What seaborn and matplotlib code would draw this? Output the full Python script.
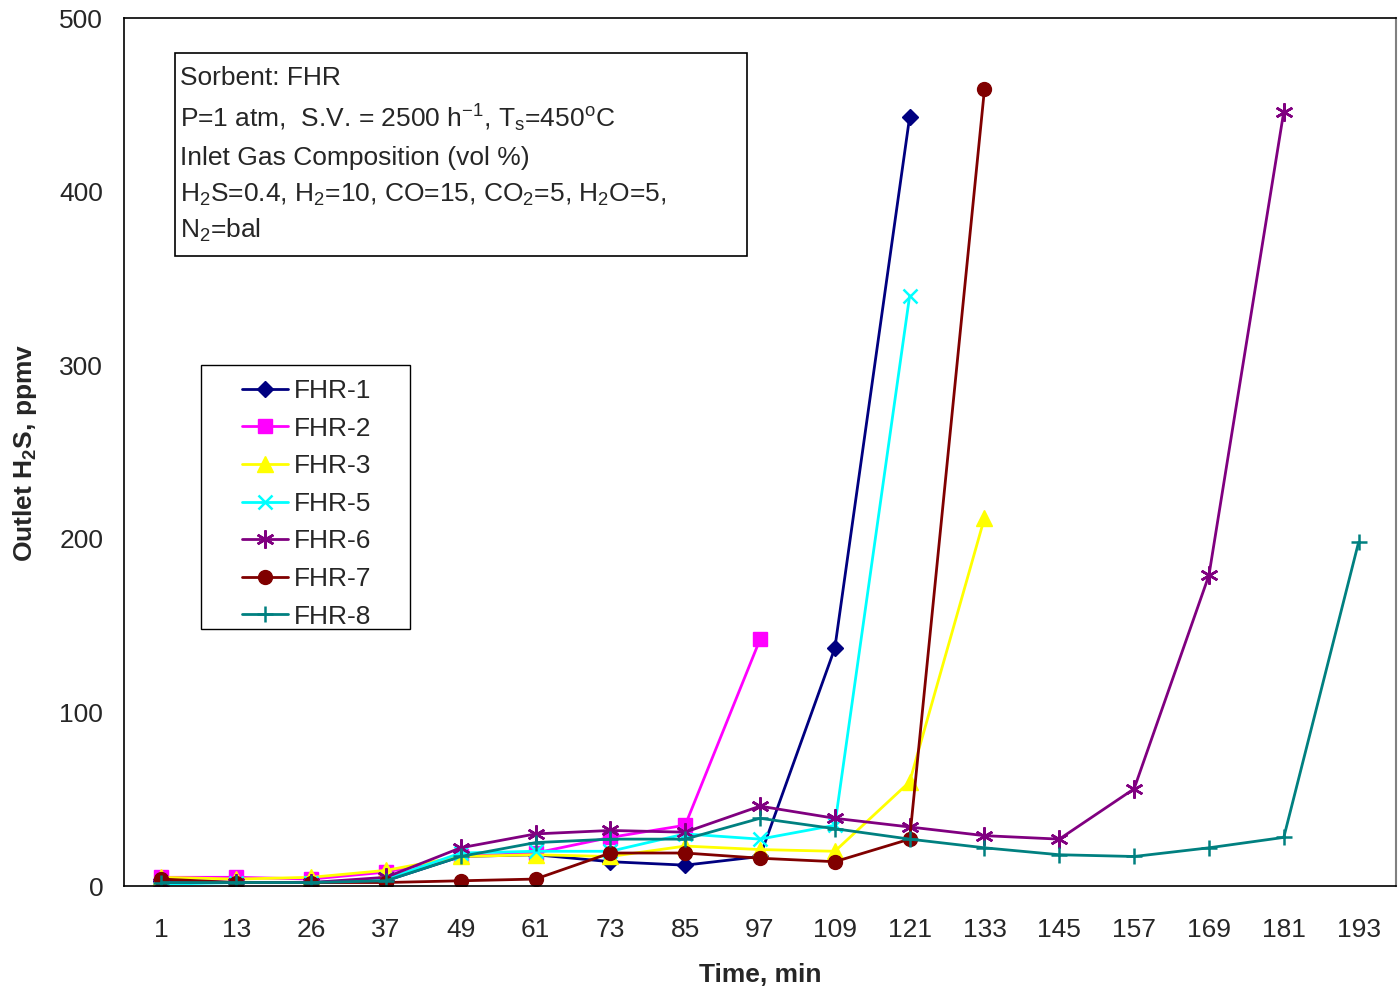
import numpy as np
import pandas as pd
import seaborn as sns
import matplotlib.pyplot as plt
from matplotlib.patches import Rectangle

sns.set_style('white')
plt.rcParams['font.family'] = ['Liberation Sans', 'DejaVu Sans']
plt.rcParams['mathtext.fontset'] = 'custom'
plt.rcParams['mathtext.rm'] = 'Liberation Sans'
plt.rcParams['mathtext.it'] = 'Liberation Sans'
plt.rcParams['mathtext.bf'] = 'Liberation Sans:bold'

# time categories (min)
time = [1, 13, 26, 37, 49, 61, 73, 85, 97, 109, 121, 133, 145, 157, 169, 181, 193]

# outlet H2S, ppmv
fhr1 = [3, 2, 2, 3, 17, 18, 14, 12, 17, 137, 443]
fhr2 = [5, 5, 4, 8, 17, 19, 28, 35, 142]
fhr3 = [5, 4, 5, 9, 17, 18, 17, 23, 21, 20, 60, 212]
fhr5 = [1, 2, 2, 4, 19, 20, 20, 30, 27, 35, 340]
fhr6 = [2, 2, 2, 5, 22, 30, 32, 31, 46, 39, 34, 29, 27, 56, 179, 446]
fhr7 = [4, 2, 2, 2, 3, 4, 19, 19, 16, 14, 27, 459]
fhr8 = [2, 2, 2, 3, 17, 25, 27, 27, 39, 33, 27, 22, 18, 17, 22, 28, 198]

series = {'FHR-1': fhr1, 'FHR-2': fhr2, 'FHR-3': fhr3, 'FHR-5': fhr5,
          'FHR-6': fhr6, 'FHR-7': fhr7, 'FHR-8': fhr8}
colors = {'FHR-1': '#000080', 'FHR-2': '#FF00FF', 'FHR-3': '#FFFF00', 'FHR-5': '#00FFFF',
          'FHR-6': '#800080', 'FHR-7': '#800000', 'FHR-8': '#008080'}
markers = {'FHR-1': 'D', 'FHR-2': 's', 'FHR-3': '^', 'FHR-5': 'x',
           'FHR-6': (6, 2, 0), 'FHR-7': 'o', 'FHR-8': '+'}
msizes = {'FHR-1': 8, 'FHR-2': 10, 'FHR-3': 11, 'FHR-5': 10,
          'FHR-6': 13, 'FHR-7': 10, 'FHR-8': 12}

FS = 19

fig = plt.figure(figsize=(13.99, 9.92), dpi=100)
ax = fig.add_axes([124/1399, 106/992, 1272/1399, 868/992])

for name, vals in series.items():
    df = pd.DataFrame({'pos': np.arange(len(vals)), 'h2s': vals})
    sns.lineplot(data=df, x='pos', y='h2s', ax=ax, color=colors[name], marker=markers[name],
                 markersize=msizes[name], markeredgewidth=1.8 if name in ('FHR-5', 'FHR-6', 'FHR-8') else 1,
                 markeredgecolor=colors[name], linewidth=2, label=name)

ax.set_xlim(-0.5, len(time) - 0.5)
ax.set_ylim(0, 500)
ax.set_xticks(np.arange(-0.5, len(time)))
ax.set_xticklabels([])
ax.set_xticks(np.arange(len(time)), minor=True)
ax.set_xticklabels([str(t) for t in time], minor=True)
ax.tick_params(axis='x', which='major', direction='out', length=8, width=1.2, color='black')
ax.tick_params(axis='x', which='minor', length=0, pad=23, labelsize=FS)
ax.set_yticks(range(0, 501, 100))
ax.tick_params(axis='y', direction='out', length=6, width=1.2, color='black', pad=9, labelsize=FS)

for s in ['left', 'bottom', 'top']:
    ax.spines[s].set_color('black')
    ax.spines[s].set_linewidth(1.2)
ax.spines['right'].set_color('#808080')
ax.spines['right'].set_linewidth(1.5)

ax.set_xlabel('')
ax.set_ylabel('')
fig.text(760/1399, 1 - 975/992, 'Time, min', fontsize=FS, fontweight='bold', ha='center', va='center')
fig.text(25/1399, 1 - 453/992, r'Outlet H$_\mathbf{2}$S, ppmv', fontsize=FS, fontweight='bold',
         rotation=90, ha='center', va='center')

# legend box drawn by hand, entries placed inside it
ax.add_patch(Rectangle((0.0605, 0.2961), 0.1643, 0.3041, transform=ax.transAxes,
                       fill=False, edgecolor='black', linewidth=1))
leg = ax.legend(loc='upper left', bbox_to_anchor=(0.0928, 0.584), fontsize=FS, frameon=False,
                handlelength=1.75, labelspacing=0.515, borderpad=0, handletextpad=0.2, borderaxespad=0)

# condition box
ax.add_patch(Rectangle((0.040, 0.726), 0.450, 0.234, transform=ax.transAxes,
                       fill=False, edgecolor='black', linewidth=1.2))
lines = ['Sorbent: FHR',
         r'P=1 atm,  S.V. = 2500 h$^{\mathregular{-1}}$, T$_{\mathregular{s}}$=450$^{\mathregular{o}}$C',
         'Inlet Gas Composition (vol %)',
         r'H$_2$S=0.4, H$_2$=10, CO=15, CO$_2$=5, H$_2$O=5,',
         r'N$_2$=bal']
ypix = [85, 127, 165, 202, 238]
for txt, yp in zip(lines, ypix):
    ax.text(0.044, (886 - yp) / 868, txt, transform=ax.transAxes, fontsize=FS, va='baseline', ha='left')

fig.savefig('out.png', dpi=100)
